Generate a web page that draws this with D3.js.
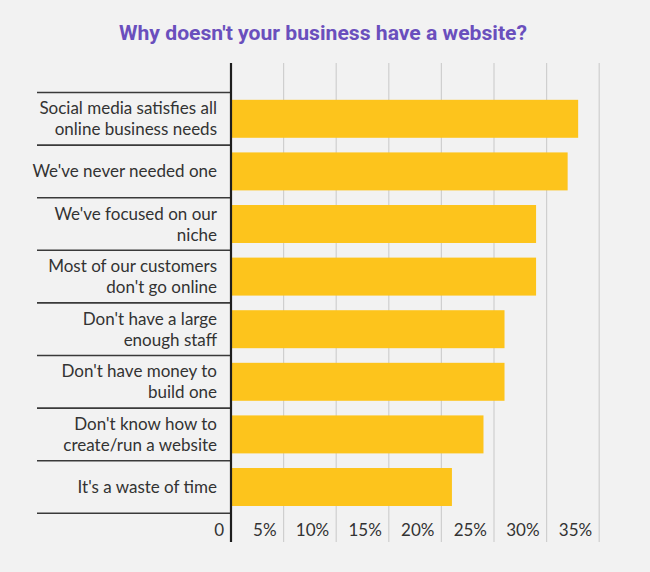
<!DOCTYPE html>
<html><head><meta charset="utf-8">
<script src="https://cdn.jsdelivr.net/npm/d3@7"></script>
<style>
html,body{margin:0;padding:0;background:#f2f2f2;}
svg{display:block;}
</style></head>
<body>
<svg id="chart" width="650" height="572"></svg>
<script>
const title = "Why doesn't your business have a website?";
const categories = [
  ["Social media satisfies all", "online business needs"],
  ["We've never needed one"],
  ["We've focused on our", "niche"],
  ["Most of our customers", "don't go online"],
  ["Don't have a large", "enough staff"],
  ["Don't have money to", "build one"],
  ["Don't know how to", "create/run a website"],
  ["It's a waste of time"]
];
const values = [33, 32, 29, 29, 26, 26, 24, 21];
const tickValues = [0, 5, 10, 15, 20, 25, 30, 35];
const tickLabels = ["0", "5%", "10%", "15%", "20%", "25%", "30%", "35%"];

const svg = d3.select("#chart");
svg.append("rect").attr("width",650).attr("height",572).attr("fill","#f2f2f2");

const x = d3.scaleLinear().domain([0,35]).range([231, 599.2]);
const y = d3.scaleBand().domain(d3.range(categories.length)).range([92.5, 513.3]).paddingInner(0.278).paddingOuter(0.139);
const rowH = (513.3-92.5)/categories.length;
const yTop = 63, yBottom = 542;

// title
const t = svg.append("text").attr("x", 323).attr("y", 40).attr("text-anchor","middle")
  .attr("font-family","Roboto").attr("font-weight","bold").attr("font-size",21)
  .attr("fill","#6a4fbd").text(title);
t.attr("textLength", 408).attr("lengthAdjust","spacingAndGlyphs");

// gridlines
svg.append("g").selectAll("line").data(tickValues.slice(1)).join("line")
  .attr("x1", d=>x(d)).attr("x2", d=>x(d)).attr("y1", yTop).attr("y2", yBottom)
  .attr("stroke","#cfcfcf").attr("stroke-width",1.2);

// row separators
svg.append("g").selectAll("line").data(d3.range(categories.length+1)).join("line")
  .attr("x1", 37).attr("x2", 231).attr("y1", i=>92.5+i*rowH).attr("y2", i=>92.5+i*rowH)
  .attr("stroke","#3a3a3a").attr("stroke-width",1.6);

// bars
svg.append("g").selectAll("rect").data(values).join("rect")
  .attr("x", x(0)).attr("y", (d,i)=>y(i)).attr("width", d=>x(d)-x(0)).attr("height", y.bandwidth())
  .attr("fill","#fdc41c");

// axis line
svg.append("line").attr("x1",231).attr("x2",231).attr("y1",yTop).attr("y2",yBottom)
  .attr("stroke","#1e1e1e").attr("stroke-width",2.2);

// category labels
const lab = svg.append("g").attr("font-family","Lato").attr("font-size",17).attr("fill","#333");
categories.forEach((lines,i)=>{
  const cy = 92.5 + (i+0.5)*rowH;
  const lh = 21;
  lines.forEach((ln,j)=>{
    const by = cy + 6 + (j - (lines.length-1)/2)*lh;
    lab.append("text").attr("x",217).attr("y",by).attr("text-anchor","end").text(ln);
  });
});

// tick labels
svg.append("g").selectAll("text").data(tickValues).join("text")
  .attr("x", d=>x(d)-7).attr("y", 536).attr("text-anchor","end")
  .attr("font-family","Lato").attr("font-size",17).attr("fill","#333")
  .text((d,i)=>tickLabels[i]);
</script>
</body></html>
